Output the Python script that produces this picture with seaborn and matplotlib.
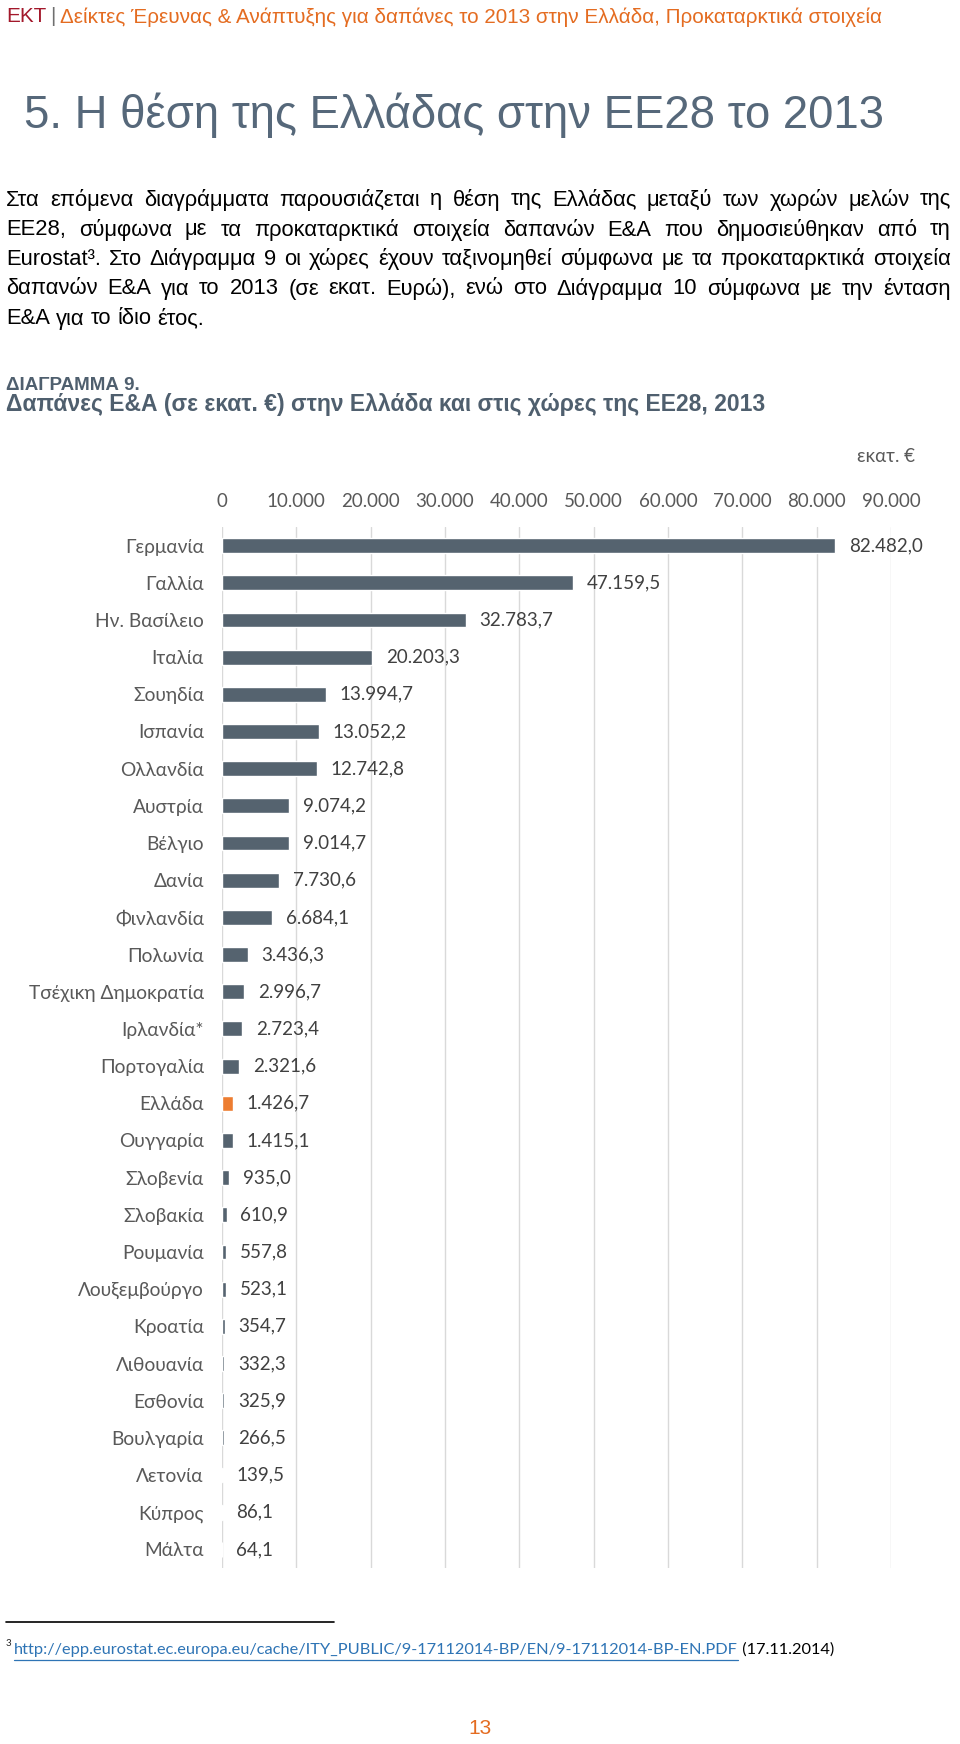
import matplotlib
matplotlib.use("Agg")
import matplotlib.pyplot as plt
import matplotlib.ticker as mticker
import pandas as pd
import seaborn as sns

# ---- data -------------------------------------------------------------
countries = [
    "Γερμανία", "Γαλλία", "Ην. Βασίλειο", "Ιταλία", "Σουηδία", "Ισπανία",
    "Ολλανδία", "Αυστρία", "Βέλγιο", "Δανία", "Φινλανδία", "Πολωνία",
    "Τσέχικη Δημοκρατία", "Ιρλανδία*", "Πορτογαλία", "Ελλάδα", "Ουγγαρία",
    "Σλοβενία", "Σλοβακία", "Ρουμανία", "Λουξεμβούργο", "Κροατία",
    "Λιθουανία", "Εσθονία", "Βουλγαρία", "Λετονία", "Κύπρος", "Μάλτα",
]
spend = [
    82482.0, 47159.5, 32783.7, 20203.3, 13994.7, 13052.2, 12742.8, 9074.2,
    9014.7, 7730.6, 6684.1, 3436.3, 2996.7, 2723.4, 2321.6, 1426.7, 1415.1,
    935.0, 610.9, 557.8, 523.1, 354.7, 332.3, 325.9, 266.5, 139.5, 86.1, 64.1,
]
highlight = "Ελλάδα"
x_ticks = [0, 10000, 20000, 30000, 40000, 50000, 60000, 70000, 80000, 90000]

header_lead = "ΕΚΤ"
header_rest = "Δείκτες Έρευνας & Ανάπτυξης για δαπάνες το 2013 στην Ελλάδα, Προκαταρκτικά στοιχεία"
section_title = "5. Η θέση της Ελλάδας στην ΕΕ28 το 2013"
paragraph = [
    "Στα επόμενα διαγράμματα παρουσιάζεται η θέση της Ελλάδας μεταξύ των χωρών μελών της",
    "ΕΕ28, σύμφωνα με τα προκαταρκτικά στοιχεία δαπανών Ε&Α που δημοσιεύθηκαν από τη",
    "Eurostat³. Στο Διάγραμμα 9 οι χώρες έχουν ταξινομηθεί σύμφωνα με τα προκαταρκτικά στοιχεία",
    "δαπανών Ε&Α για το 2013 (σε εκατ. Ευρώ), ενώ στο Διάγραμμα 10 σύμφωνα με την ένταση",
    "Ε&Α για το ίδιο έτος.",
]
chart_label = "ΔΙΑΓΡΑΜΜΑ 9."
chart_title = "Δαπάνες Ε&Α (σε εκατ. €) στην Ελλάδα και στις χώρες της ΕΕ28, 2013"
unit_label = "εκατ. €"
footnote_url = "http://epp.eurostat.ec.europa.eu/cache/ITY_PUBLIC/9-17112014-BP/EN/9-17112014-BP-EN.PDF"
footnote_date = " (17.11.2014)"
page_number = "13"

# ---- style ------------------------------------------------------------
W, H = 960, 1744
BAR = "#55636f"
ORANGE = "#ed7d31"
SLATE = "#4f5f6e"
GREY = "#595959"
CHART_FONT = ["Lato", "Open Sans", "DejaVu Sans"]
BODY_FONT = ["Liberation Sans Narrow", "Liberation Sans", "DejaVu Sans"]

sns.set_theme(style="white")
plt.rcParams["font.family"] = BODY_FONT

fig = plt.figure(figsize=(W / 100, H / 100), dpi=100)
fig.patch.set_facecolor("white")


def fx(px):
    return px / W


def fy(py):
    return 1 - py / H


# ---- page text ---------------------------------------------------------
renderer = fig.canvas.get_renderer()

t = fig.text(fx(6), fy(17), header_lead, color="#a3182b", fontsize=14.9, va="center")
x = 6 + t.get_window_extent(renderer).width
t = fig.text(fx(x + 4), fy(17), "|", color="#6f6f6f", fontsize=14.9, va="center")
x += 4 + t.get_window_extent(renderer).width
fig.text(fx(x + 4), fy(17), header_rest, color="#e46c21", fontsize=14.9, va="center")

fig.text(fx(24), fy(115), section_title, color="#56687a", fontsize=32.8, va="center")


def justify(words, ypx, x0, x1, last=False, **kw):
    texts = [fig.text(0, fy(ypx), w, va="center", **kw) for w in words]
    widths = [tt.get_window_extent(renderer).width for tt in texts]
    probe = fig.text(0, 0, "a a", **kw)
    sp = probe.get_window_extent(renderer).width
    probe.remove()
    probe = fig.text(0, 0, "aa", **kw)
    sp -= probe.get_window_extent(renderer).width
    probe.remove()
    gap = sp if last else max((x1 - x0 - sum(widths)) / (len(words) - 1), 2)
    xx = x0
    for tt, w in zip(texts, widths):
        tt.set_x(fx(xx))
        xx += w + gap


line_y = [200, 230, 259, 289, 319]
for i, (line, ly) in enumerate(zip(paragraph, line_y)):
    justify(line.split(" "), ly, 6, 951, last=(i == len(paragraph) - 1),
            fontsize=15.8, color="black")

fig.text(fx(6), fy(385), chart_label, color=SLATE, fontsize=13.5, fontweight="bold", va="center")
fig.text(fx(6), fy(405), chart_title, color=SLATE, fontsize=16.5, fontweight="bold", va="center")

# ---- chart -------------------------------------------------------------
df = pd.DataFrame({"country": countries, "value": spend})
df["group"] = ["hl" if c == highlight else "base" for c in countries]

ax = fig.add_axes([fx(222), fy(1568), fx(891) - fx(222), (1568 - 527) / H])
sns.barplot(data=df, x="value", y="country", hue="group",
            palette={"base": BAR, "hl": ORANGE}, dodge=False, width=0.4,
            legend=False, ax=ax, saturation=1)

ax.set_xlim(0, 90000)
ax.set_ylim(len(countries) - 0.5, -0.5)
ax.xaxis.tick_top()
ax.set_xticks(x_ticks)
ax.xaxis.set_major_formatter(mticker.FuncFormatter(
    lambda v, _: f"{v:,.0f}".replace(",", ".")))
ax.grid(axis="x", color="#d9d9d9", linewidth=1)
ax.grid(axis="y", visible=False)
ax.set_axisbelow(True)
for s in ax.spines.values():
    s.set_visible(False)
ax.tick_params(axis="x", length=0, pad=12, labelsize=13.5, labelcolor=GREY)
ax.tick_params(axis="y", length=0, pad=13, labelsize=13.8, labelcolor=GREY)
for lab in ax.get_xticklabels() + ax.get_yticklabels():
    lab.set_family(CHART_FONT)
ax.set_xlabel("")
ax.set_ylabel("")

for container in ax.containers:
    labels = [f"{v:,.1f}".replace(",", "X").replace(".", ",").replace("X", ".")
              for v in container.datavalues]
    ax.bar_label(container, labels=labels, padding=10, fontsize=13.5,
                 color="#404040", family=CHART_FONT)

fig.text(fx(915), fy(457), unit_label, color=GREY, fontsize=13.5,
         family=CHART_FONT, ha="right", va="center")

# ---- footnote ----------------------------------------------------------
fig.add_artist(plt.Line2D([fx(6), fx(334)], [fy(1622), fy(1622)],
                          color="black", linewidth=1.2))
fig.text(fx(6), fy(1643), "3", fontsize=7, family=CHART_FONT, va="center")
url = fig.text(fx(14), fy(1650), footnote_url, fontsize=11.8, color="#2e74b5",
               family=CHART_FONT, va="center")
ub = url.get_window_extent(renderer)
fig.add_artist(plt.Line2D([fx(14), fx(14 + ub.width)], [fy(1660), fy(1660)],
                          color="#2e74b5", linewidth=0.9))
fig.text(fx(14 + ub.width), fy(1650), footnote_date, fontsize=11.8, color="black",
         family=CHART_FONT, va="center")

fig.text(fx(480), fy(1728), page_number, color="#e46c21", fontsize=15,
         ha="center", va="center")

fig.savefig("out.png", dpi=100)
